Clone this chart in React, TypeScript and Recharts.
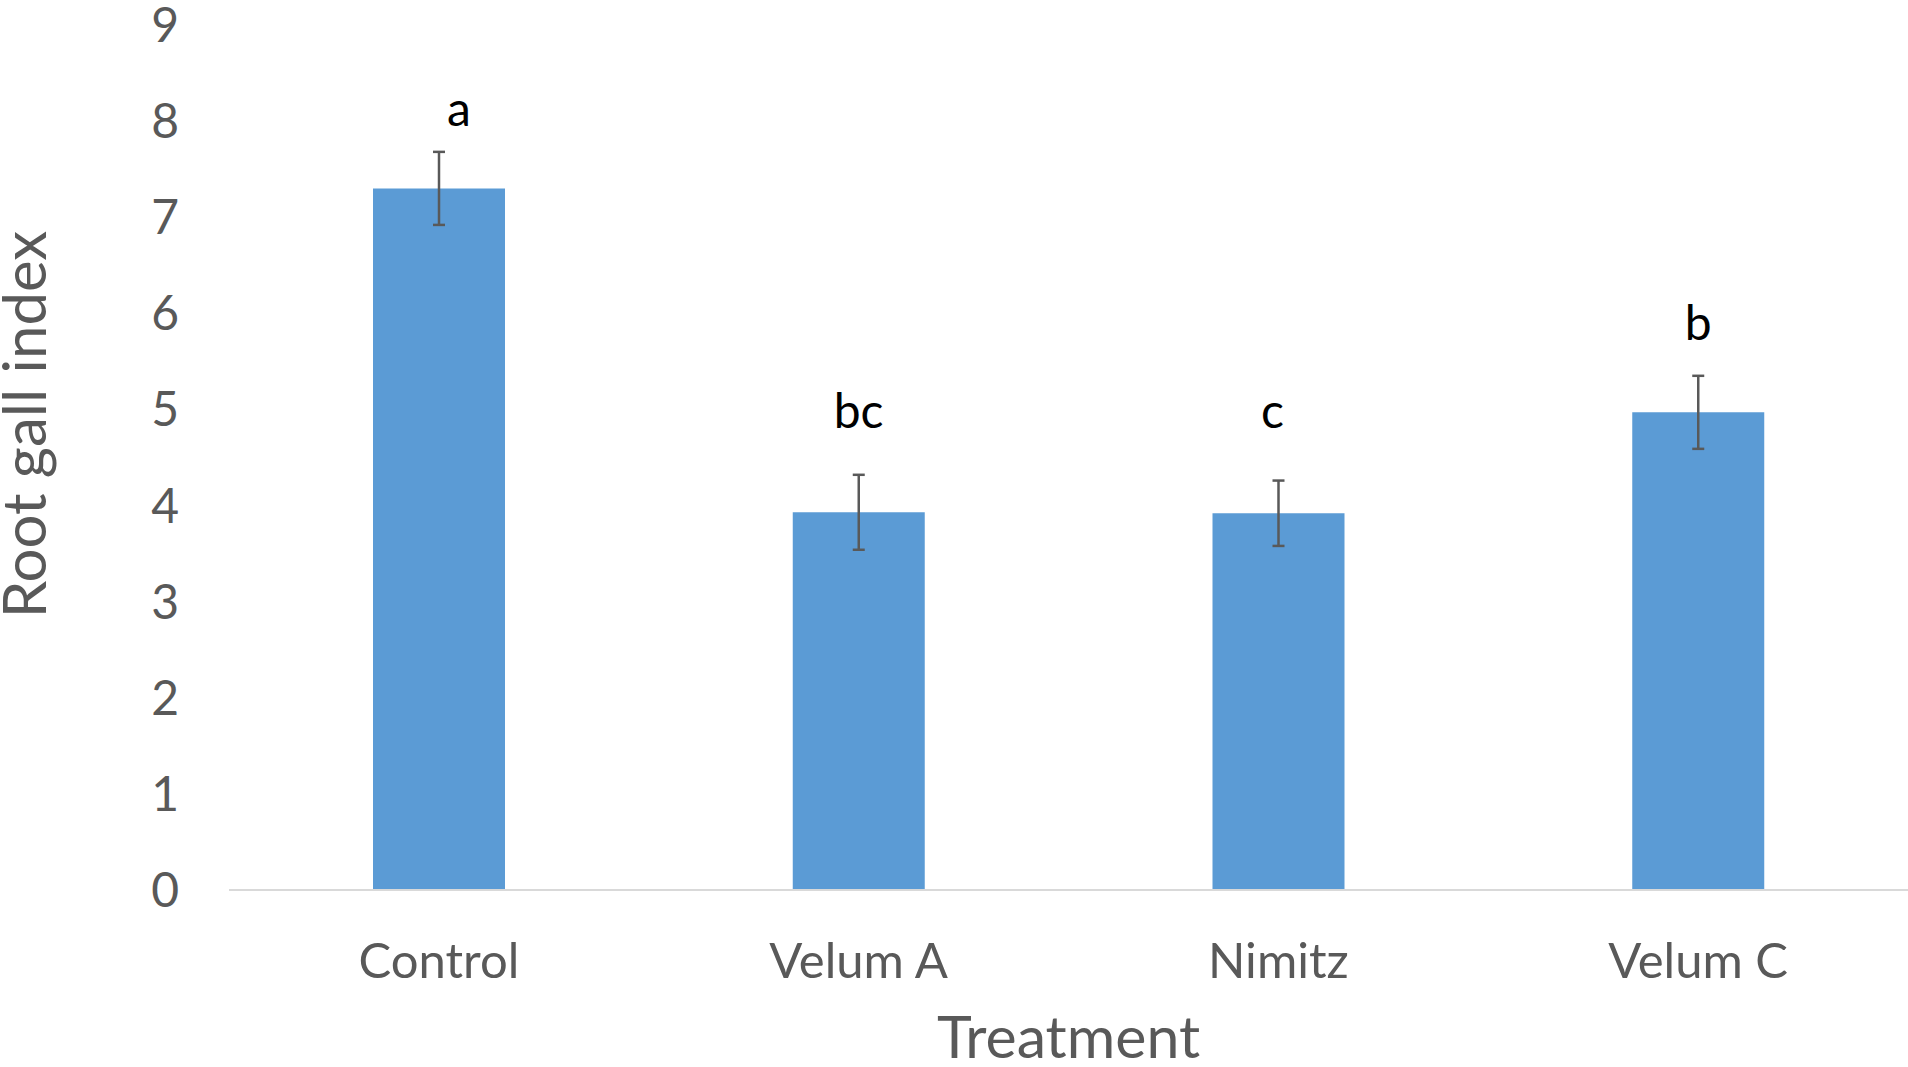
import React from 'react';
import { ComposedChart, Bar, Scatter, ErrorBar, XAxis, YAxis } from 'recharts';

// values
const treatments = ['Control', 'Velum A', 'Nimitz', 'Velum C'];
const gallIndex = [7.3, 3.93, 3.92, 4.97];
const stdError = [0.38, 0.39, 0.34, 0.38];
const letters = ['a', 'bc', 'c', 'b'];
const letterY = [7.95, 4.81, 4.81, 5.72];
const yTicks = [0, 1, 2, 3, 4, 5, 6, 7, 8, 9];

const FONT = 'Lato, "Open Sans", sans-serif';
const GREY = '#595959';
// small horizontal shifts of the significance letters, as in the original
const letterNudge = [20, 0, -6, 0];

const data = treatments.map((name, i) => ({
  name,
  value: gallIndex[i],
  err: stdError[i],
  letter: letters[i],
  letterY: letterY[i],
}));

const YTitle = (props: any) => {
  const vb = props.viewBox || { x: 0, y: 0, height: 0 };
  const x = vb.x + 46;
  const y = vb.y + vb.height / 2 - 33;
  return (
    <text x={x} y={y} transform={`rotate(-90, ${x}, ${y})`} textAnchor="middle"
      fill={GREY} fontSize={60} fontFamily={FONT}>
      Root gall index
    </text>
  );
};

const XTitle = (props: any) => {
  const vb = props.viewBox || { x: 0, y: 0, width: 0 };
  return (
    <text x={vb.x + vb.width / 2} y={1058} textAnchor="middle"
      fill={GREY} fontSize={59} fontFamily={FONT}>
      Treatment
    </text>
  );
};

const LetterMark = (props: any) => {
  const { cx, cy, payload } = props;
  const i = treatments.indexOf(payload.name);
  return (
    <text x={cx + (letterNudge[i] || 0)} y={cy} textAnchor="middle"
      fill="#000" fontSize={48} fontFamily={FONT}>
      {payload.letter}
    </text>
  );
};

export default function App() {
  return (
    <div style={{ position: 'absolute', left: 0, top: 0, width: 1908, height: 1067, background: '#fff' }}>
      <ComposedChart width={1908} height={1067} data={data}
        margin={{ top: 25, right: 0, bottom: 0, left: 0 }}>
        <XAxis dataKey="name" height={177} tickLine={false} tickSize={0} tickMargin={53}
          axisLine={{ stroke: '#d9d9d9', strokeWidth: 2 }}
          tick={{ fontSize: 49, fill: GREY, fontFamily: FONT }}
          label={<XTitle />} />
        <YAxis width={229} domain={[0, 9]} ticks={yTicks} interval={0}
          axisLine={false} tickLine={false} tickSize={0} tickMargin={50}
          tick={{ fontSize: 48, fill: GREY, fontFamily: FONT }}
          label={<YTitle />} />
        <Bar dataKey="value" fill="#5b9bd5" barSize={132} isAnimationActive={false}>
          <ErrorBar dataKey="err" direction="y" width={6} stroke={GREY} strokeWidth={2.5}
            isAnimationActive={false} />
        </Bar>
        <Scatter dataKey="letterY" shape={<LetterMark />} isAnimationActive={false} />
      </ComposedChart>
    </div>
  );
}
